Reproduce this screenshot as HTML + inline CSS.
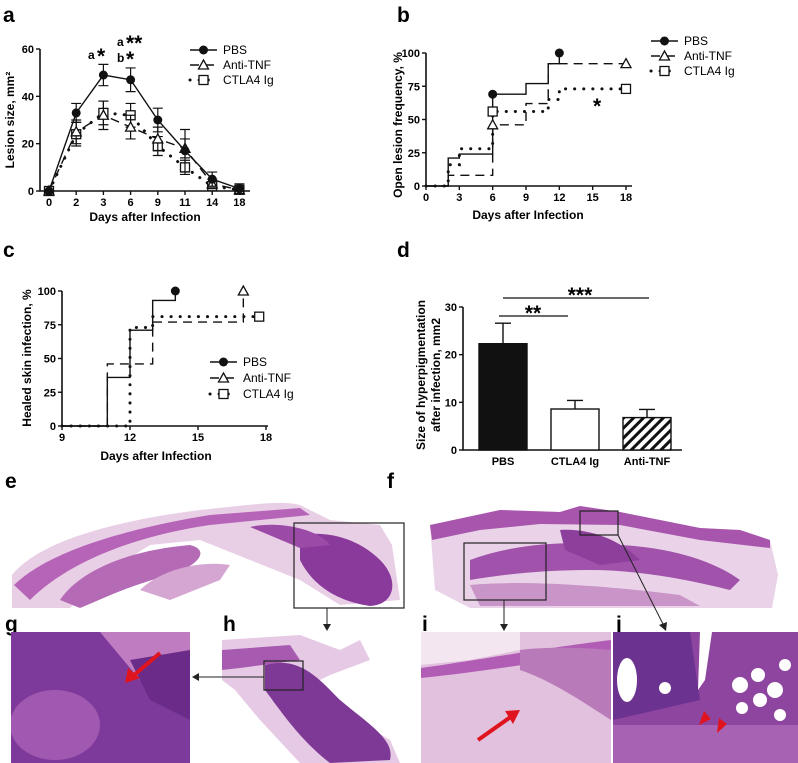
<!DOCTYPE html>
<html><head><meta charset="utf-8"><style>
html,body{margin:0;padding:0;background:#fff}
svg{display:block}
text{font-family:"Liberation Sans",Arial,sans-serif}
.tk{font-size:11px;font-weight:bold}
.lg{font-size:12px}
.ttl{font-size:12px;font-weight:bold}
.pl{font-size:21px;font-weight:bold}
</style></head><body>
<svg id="fig" width="798" height="763" viewBox="0 0 798 763" xmlns="http://www.w3.org/2000/svg">
<defs>
<pattern id="hatch" width="7" height="7" patternUnits="userSpaceOnUse" patternTransform="rotate(45)"><rect width="7" height="7" fill="#fff"/><rect width="3" height="7" fill="#111"/></pattern>
<clipPath id="cg"><rect x="11" y="632" width="179" height="131"/></clipPath>
<clipPath id="ch"><rect x="222" y="632" width="183" height="131"/></clipPath>
<clipPath id="ci"><rect x="421" y="632" width="190" height="131"/></clipPath>
<clipPath id="cj"><rect x="613" y="632" width="185" height="131"/></clipPath>
</defs>

<text class="pl" x="3" y="22">a</text>
<text class="pl" x="397" y="22">b</text>
<text class="pl" x="3" y="257">c</text>
<text class="pl" x="397" y="257">d</text>
<text class="pl" x="5" y="488">e</text>
<text class="pl" x="387" y="488">f</text>
<text class="pl" x="5" y="631">g</text>
<text class="pl" x="223" y="631">h</text>
<text class="pl" x="422" y="631">i</text>
<text class="pl" x="616" y="631">j</text>

<g>
<path d="M12,575 C40,540 120,520 200,510 C250,505 280,500 300,505 L330,520 L380,525 L392,545 L400,600 L340,605 L300,580 L250,560 L200,540 L150,545 L110,570 L70,608 L12,608 Z" fill="#e9cfe6"/>
<path d="M14,585 C50,550 130,528 210,515 L300,508 L310,515 L210,525 C140,535 70,560 30,600 Z" fill="#b664b7"/>
<path d="M60,600 C80,570 130,550 190,545 C210,550 200,565 170,575 C130,585 100,600 80,608 Z" fill="#b56ab5"/>
<path d="M300,535 C330,530 360,540 380,560 C400,580 395,605 370,606 C330,600 310,580 300,560 Z" fill="#8a3a9a"/>
<path d="M250,527 C280,520 320,530 330,545 L300,548 Z" fill="#9c4aa8"/>
<path d="M140,590 C160,570 200,560 230,565 L220,580 L170,600 Z" fill="#d6a6d3"/>
</g>
<rect x="294" y="523" width="110" height="85" fill="none" stroke="#222" stroke-width="1.2"/>

<g>
<path d="M430,525 L500,510 L560,512 L580,506 L620,512 L660,520 L700,528 L740,530 L770,540 L778,575 L772,608 L470,608 L435,590 Z" fill="#ead3e8"/>
<path d="M430,525 L500,510 L560,512 L580,506 L620,512 L660,520 L700,528 L740,530 L770,540 L770,548 L700,540 L620,525 L540,524 L480,530 L432,540 Z" fill="#a855ad"/>
<path d="M470,560 C510,545 560,540 620,545 C680,548 720,565 740,580 L730,590 C690,580 640,570 590,570 C540,570 500,575 470,580 Z" fill="#a152ab"/>
<path d="M560,530 C590,528 620,540 640,560 L600,565 L565,550 Z" fill="#8d3f9c"/>
<path d="M470,585 C520,580 600,585 680,595 L700,606 L480,606 Z" fill="#c995c8"/>
</g>
<rect x="580" y="511" width="38" height="24" fill="none" stroke="#222" stroke-width="1.2"/>
<rect x="464" y="543" width="82" height="57" fill="none" stroke="#222" stroke-width="1.2"/>

<g clip-path="url(#cg)">
<rect x="11" y="632" width="179" height="131" fill="#7d3a9a"/>
<path d="M100,632 L190,632 L190,660 L140,680 Z" fill="#c07cc0"/>
<ellipse cx="55" cy="725" rx="45" ry="35" fill="#a158b0"/>
<path d="M130,660 L190,650 L190,720 L150,700 Z" fill="#6a2c88"/>
</g>
<g clip-path="url(#ch)">
<rect x="222" y="632" width="183" height="131" fill="#fff"/>
<path d="M222,640 L300,635 L340,650 L360,640 L370,660 L330,675 L300,690 L340,710 L390,740 L400,763 L300,763 L260,720 L235,690 L222,680 Z" fill="#e6c9e4"/>
<path d="M265,665 C300,655 320,680 340,700 C370,725 395,740 390,760 L330,763 C300,740 280,710 265,690 Z" fill="#7e3996"/>
<path d="M222,650 L290,645 L300,660 L240,668 L222,670 Z" fill="#a65bb0"/>
</g>
<rect x="264" y="661" width="39" height="29" fill="none" stroke="#222" stroke-width="1.2"/>
<g clip-path="url(#ci)">
<rect x="421" y="632" width="190" height="131" fill="#e1c1de"/>
<path d="M421,632 L520,632 L520,650 L470,660 L421,665 Z" fill="#f3e6f1"/>
<path d="M421,668 C480,660 530,650 611,640 L611,652 C540,662 480,672 421,678 Z" fill="#b25db5"/>
<path d="M520,650 C560,645 611,650 611,650 L611,720 C580,700 550,680 520,670 Z" fill="#b97ab9"/>
</g>
<g clip-path="url(#cj)">
<rect x="613" y="632" width="185" height="131" fill="#8e459f"/>
<path d="M613,632 L690,632 L700,700 L613,720 Z" fill="#6c3290"/>
<ellipse cx="627" cy="680" rx="10" ry="22" fill="#fff"/>
<path d="M700,632 L712,632 L705,680 L698,690 Z" fill="#fff"/>
<circle cx="740" cy="685" r="8" fill="#fff"/><circle cx="758" cy="675" r="7" fill="#fff"/><circle cx="775" cy="690" r="8" fill="#fff"/><circle cx="760" cy="700" r="7" fill="#fff"/><circle cx="785" cy="665" r="6" fill="#fff"/><circle cx="742" cy="708" r="6" fill="#fff"/><circle cx="665" cy="688" r="6" fill="#fff"/><circle cx="780" cy="715" r="6" fill="#fff"/>
<rect x="613" y="725" width="185" height="38" fill="#a862b4"/>
</g>
<g fill="#e0141e" stroke="#e0141e">
<line x1="160" y1="653" x2="133" y2="676" stroke-width="4"/><polygon points="125,683 128,668 140,678" stroke="none"/>
<line x1="478" y1="740" x2="512" y2="716" stroke-width="4"/><polygon points="520,710 505,711 513,724" stroke="none"/>
<polygon points="699,725 704,711 711,719" stroke="none"/><polygon points="717,733 719,718 727,724" stroke="none"/>
</g>
<g stroke="#222" stroke-width="1" fill="#222">
<line x1="327" y1="608" x2="327" y2="628"/><polygon points="323,624 331,624 327,631" stroke="none"/>
<line x1="264" y1="677" x2="196" y2="677"/><polygon points="199,673 199,681 192,677" stroke="none"/>
<line x1="504" y1="600" x2="504" y2="628"/><polygon points="500,624 508,624 504,631" stroke="none"/>
<line x1="618" y1="535" x2="664" y2="626"/><polygon points="659,625 667,622 666,631" stroke="none"/>
</g>
</svg>
<script>
// ---- Panel a data ----
const aDays = ["0","2","3","6","9","11","14","18"];
const aPBS = [0,33,49,47,30,17,5,1];
const aPBSerr = [0,4,4.5,5,5,9,3,2];
const aTNF = [0,25,32,27,22,18,3,0.5];
const aTNFerr = [0,5,6,5,5,4,2,1];
const aCTLA = [0,24,33,32,19,10,2,0.5];
const aCTLAerr = [0,5,5,5,4,3,1,0.5];
const aYTicks = [0,20,40,60];
// ---- Panel b data ----
const bPBSx = [0,2,3,6,9,11,12];
const bPBSy = [0,21,24,69,77,92,100];
const bTNFx = [0,2,6,9,11,18];
const bTNFy = [0,8,46,62,92,92];
const bCTLAx = [0,2,3,6,11,12,18];
const bCTLAy = [0,16,28,56,65,73,73];
const bXTicks = [0,3,6,9,12,15,18];
const bYTicks = [0,25,50,75,100];
// ---- Panel c data ----
const cPBSx = [9,11,12,13,14];
const cPBSy = [0,36,71,93,100];
const cTNFx = [9,11,13,17,17];
const cTNFy = [0,46,77,77,100];
const cCTLAx = [9,12,13,17.7];
const cCTLAy = [0,73,81,81];
const cXTicks = [9,12,15,18];
const cYTicks = [0,25,50,75,100];
// ---- Panel d data ----
const dCats = ["PBS","CTLA4 Ig","Anti-TNF"];
const dVals = [22.3,8.6,6.8];
const dErr = [4.3,1.8,1.7];
const dYTicks = [0,10,20,30];

const svg = document.getElementById('fig');
const NS = 'http://www.w3.org/2000/svg';
function mk(tag, attrs, txt){const e=document.createElementNS(NS,tag);for(const k in attrs)e.setAttribute(k,attrs[k]);if(txt!==undefined)e.textContent=txt;svg.appendChild(e);return e;}

const ax = i => 49 + i*27.2;
const ay = v => 191 - v/60*142;
const bx = d => 426 + d/18*200;
const by = v => 186 - v/100*133;
const cx = d => 62 + (d-9)/9*204;
const cy = v => 426 - v/100*135;
const dy = v => 450 - v/30*143;
const dbx = i => 479 + i*72;

function marker(type,x,y,nm){
  let m;
  if(type==='circle'){m=mk('circle',{cx:x,cy:y,r:4.5,fill:'#111'});}
  else if(type==='tri'){m=mk('polygon',{points:`${x},${y-5} ${x-5},${y+4} ${x+5},${y+4}`,fill:'#fff',stroke:'#111','stroke-width':1.3});}
  else {m=mk('rect',{x:x-4.5,y:y-4.5,width:9,height:9,fill:'#fff',stroke:'#111','stroke-width':1.3});}
  
  
  return m;
}
const styles={solid:'',dash:'9,6',dot:'0.1,9'};
function polyl(pts,st,nm){
  const p=mk('polyline',{points:pts.map(q=>q.join(',')).join(' '),fill:'none',stroke:'#111','stroke-width':st==='dot'?3:1.4,'stroke-dasharray':styles[st],'stroke-linecap':st==='dot'?'round':'butt'});
  
  
}
function axisLines(x0,y0,x1,y1,nm){
  const l=mk('polyline',{points:`${x0},${y1} ${x0},${y0} ${x1},${y0}`,fill:'none',stroke:'#111','stroke-width':1.6});
  
  
}
function ytick(x,y,lab,nm){
  const t=mk('line',{x1:x-4,y1:y,x2:x,y2:y,stroke:'#111','stroke-width':1.4});
  
  
  const tx=mk('text',{x:x-6,y:y+4,'text-anchor':'end',class:'tk'},lab);
  
  
}
function xtick(x,y,lab,nm){
  const t=mk('line',{x1:x,y1:y,x2:x,y2:y+4,stroke:'#111','stroke-width':1.4});
  
  
  const tx=mk('text',{x:x,y:y+15,'text-anchor':'middle',class:'tk'},lab);
  
  
}
function txt(x,y,s,cls,nm,extra){
  const t=mk('text',Object.assign({x:x,y:y,class:cls},extra||{}),s);
  
  
  return t;
}
function legend(x,y,st,mt,lab,nm){
  polyl([[x,y],[x+27,y]],st,nm+'-line');
  marker(mt,x+13.5,y,nm+'-marker');
  txt(x+33,y+4,lab,'lg',nm+'-text');
}

// ===== Panel a =====
axisLines(40,191,250,49,'a-axes');
aYTicks.forEach(v=>ytick(40,ay(v),String(v),'a-y'));
aDays.forEach((d,i)=>xtick(ax(i),191,d,'a-x'));
txt(145,221,'Days after Infection','ttl','a-x-title',{'text-anchor':'middle'});
txt(0,0,'Lesion size, mm²','ttl','a-y-title',{transform:'translate(14,120) rotate(-90)','text-anchor':'middle'});
function aSeries(vals,errs,st,mt,nm){
  polyl(vals.map((v,i)=>[ax(i),ay(v)]),st,nm+'-line');
  vals.forEach((v,i)=>{
    if(errs[i]>0){
      const e=mk('path',{d:`M${ax(i)},${ay(v-errs[i])}V${ay(v+errs[i])}M${ax(i)-5},${ay(v-errs[i])}h10M${ax(i)-5},${ay(v+errs[i])}h10`,stroke:'#111','stroke-width':1.2,fill:'none'});
      
      
    }
    marker(mt,ax(i),ay(v),nm+'-point');
  });
}
aSeries(aCTLA,aCTLAerr,'dot','rect','a-ctla4');
aSeries(aTNF,aTNFerr,'dash','tri','a-antitnf');
aSeries(aPBS,aPBSerr,'solid','circle','a-pbs');
txt(88,59,'a','lg','a-sig-day3',{'font-weight':'bold'});
txt(97,63,'*','pl','a-star-day3',{'font-size':'18px'});
txt(117,46,'a','lg','a-sig-day6a',{'font-weight':'bold'});
txt(126,50,'**','pl','a-star-day6a',{'font-size':'18px'});
txt(117,62,'b','lg','a-sig-day6b',{'font-weight':'bold'});
txt(126,66,'*','pl','a-star-day6b',{'font-size':'18px'});
legend(190,50,'solid','circle','PBS','a-legend-pbs');
legend(190,65,'dash','tri','Anti-TNF','a-legend-antitnf');
legend(190,80,'dot','rect','CTLA4 Ig','a-legend-ctla4');

// ===== Panel b =====
function steps(xs,ys,fx,fy){const p=[];for(let i=0;i<xs.length;i++){if(i>0)p.push([fx(xs[i]),fy(ys[i-1])]);p.push([fx(xs[i]),fy(ys[i])]);}return p;}
axisLines(426,186,632,53,'b-axes');
bYTicks.forEach(v=>ytick(426,by(v),String(v),'b-y'));
bXTicks.forEach(d=>xtick(bx(d),186,String(d),'b-x'));
txt(528,219,'Days after Infection','ttl','b-x-title',{'text-anchor':'middle'});
txt(0,0,'Open lesion frequency, %','ttl','b-y-title',{transform:'translate(402,125) rotate(-90)','text-anchor':'middle','font-size':'10.5px'});
polyl(steps(bPBSx,bPBSy,bx,by),'solid','b-pbs-line');
polyl(steps(bTNFx,bTNFy,bx,by),'dash','b-antitnf-line');
polyl(steps(bCTLAx,bCTLAy,bx,by),'dot','b-ctla4-line');
marker('circle',bx(6),by(69),'b-pbs-censor');
marker('circle',bx(12),by(100),'b-pbs-end');
marker('tri',bx(6),by(46),'b-antitnf-censor');
marker('tri',bx(18),by(92),'b-antitnf-end');
marker('rect',bx(6),by(56),'b-ctla4-censor');
marker('rect',bx(18),by(73),'b-ctla4-end');
txt(593,113,'*','pl','b-star',{'font-size':'18px'});
legend(651,41,'solid','circle','PBS','b-legend-pbs');
legend(651,56,'dash','tri','Anti-TNF','b-legend-antitnf');
legend(651,71,'dot','rect','CTLA4 Ig','b-legend-ctla4');

// ===== Panel c =====
axisLines(62,426,268,291,'c-axes');
cYTicks.forEach(v=>ytick(62,cy(v),String(v),'c-y'));
cXTicks.forEach(d=>xtick(cx(d),426,String(d),'c-x'));
txt(156,460,'Days after Infection','ttl','c-x-title',{'text-anchor':'middle'});
txt(0,0,'Healed skin infection, %','ttl','c-y-title',{transform:'translate(31,358) rotate(-90)','text-anchor':'middle','font-size':'11px'});
polyl(steps(cPBSx,cPBSy,cx,cy),'solid','c-pbs-line');
polyl(steps(cTNFx,cTNFy,cx,cy),'dash','c-antitnf-line');
polyl(steps(cCTLAx,cCTLAy,cx,cy),'dot','c-ctla4-line');
marker('circle',cx(14),cy(100),'c-pbs-end');
marker('tri',cx(17),cy(100),'c-antitnf-end');
marker('rect',cx(17.7),cy(81),'c-ctla4-end');
legend(210,362,'solid','circle','PBS','c-legend-pbs');
legend(210,378,'dash','tri','Anti-TNF','c-legend-antitnf');
legend(210,394,'dot','rect','CTLA4 Ig','c-legend-ctla4');

// ===== Panel d =====
axisLines(463,450,682,307,'d-axes');
dYTicks.forEach(v=>ytick(463,dy(v),String(v),'d-y'));
const dFills=['#111','#fff','url(#hatch)'];
dCats.forEach((c,i)=>{
  const x=dbx(i),w=48;
  const e=mk('path',{d:`M${x+w/2},${dy(dVals[i])}V${dy(dVals[i]+dErr[i])}M${x+w/2-8},${dy(dVals[i]+dErr[i])}h16`,stroke:'#111','stroke-width':1.4,fill:'none'});
  
  
  const b=mk('rect',{x:x,y:dy(dVals[i]),width:w,height:dy(0)-dy(dVals[i]),fill:dFills[i],stroke:'#111','stroke-width':1.4});
  
  
  txt(x+w/2,465,c,'tk','d-x-label-'+i,{'text-anchor':'middle','font-size':'12px'});
});
const s1=mk('line',{x1:499,y1:316,x2:568,y2:316,stroke:'#111','stroke-width':1.3});


const s2=mk('line',{x1:503,y1:298,x2:649,y2:298,stroke:'#111','stroke-width':1.3});


txt(533,320,'**','pl','d-star-ctla4',{'text-anchor':'middle','font-size':'18px'});
txt(580,302,'***','pl','d-star-antitnf',{'text-anchor':'middle','font-size':'18px'});
txt(0,0,'Size of hyperpigmentation','ttl','d-y-title-1',{transform:'translate(425,375) rotate(-90)','text-anchor':'middle','font-size':'13px'});
txt(0,0,'after infection, mm2','ttl','d-y-title-2',{transform:'translate(440,375) rotate(-90)','text-anchor':'middle','font-size':'13px'});
</script>
</body></html>
